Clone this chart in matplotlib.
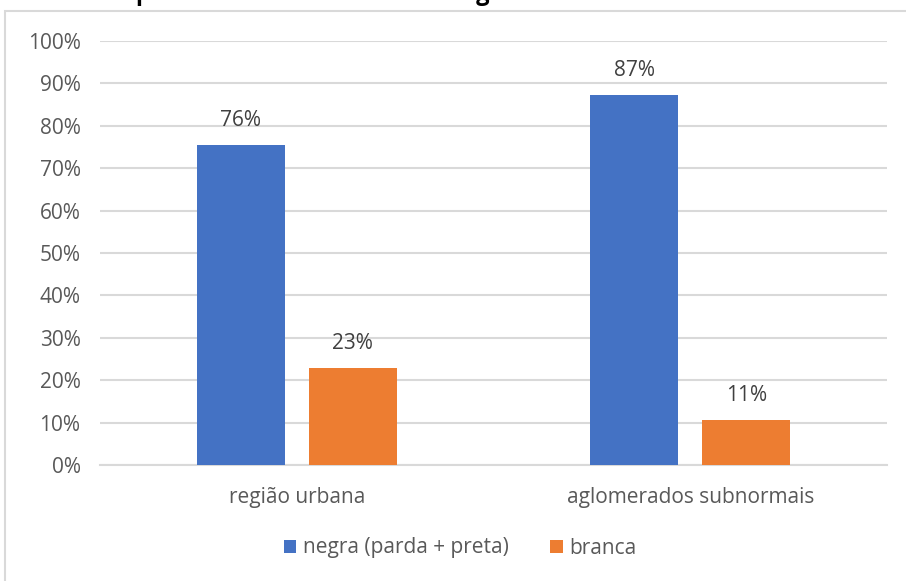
import matplotlib
matplotlib.use("Agg")
import matplotlib.pyplot as plt
from matplotlib.patches import Rectangle
import numpy as np

plt.rcParams['font.family'] = ['Open Sans', 'DejaVu Sans']

categories = ["região urbana", "aglomerados subnormais"]
series_names = ["negra (parda + preta)", "branca"]
negra = [0.755, 0.873]
branca = [0.229, 0.106]
value_labels = [["76%", "87%"], ["23%", "11%"]]
colors = ["#4472C4", "#ED7D31"]
title = "Pessoas ocupadas na área urbana e em aglomerados subnormais em Salvador"

fig = plt.figure(figsize=(9.06, 5.81), dpi=100)
fig.patches.append(Rectangle((5 / 906, -0.05), 1.0, 1 - 11 / 581 + 0.05,
                             transform=fig.transFigure, fill=False,
                             edgecolor="#d9d9d9", linewidth=1.5))
# title is cut off at the top of the original image
fig.text(0.5, 1.0 + 6 / 581, title, ha="center", va="center", fontsize=17,
         fontweight="bold", color="black")

ax = fig.add_axes([100 / 906, 1 - 465 / 581, 787 / 906, 424 / 581])
x = np.arange(len(categories))
w = 0.224
off = 0.1425
for i, vals in enumerate([negra, branca]):
    pos = x + (off if i else -off)
    ax.bar(pos, vals, width=w, color=colors[i], label=series_names[i], zorder=3)
    for p, v, lab in zip(pos, vals, value_labels[i]):
        ax.text(p, v + 0.033, lab, ha="center", va="bottom", fontsize=15, color="#404040")

ax.set_xlim(-0.5, 1.5)
ax.set_ylim(0, 1.0)
ax.set_yticks(np.arange(0, 1.01, 0.1))
ax.set_yticklabels([f"{int(round(t * 100))}%" for t in np.arange(0, 1.01, 0.1)])
ax.set_xticks(x)
ax.set_xticklabels(categories)
ax.tick_params(axis="both", length=0, labelsize=15, labelcolor="#595959")
ax.tick_params(axis="y", pad=14)
ax.tick_params(axis="x", pad=16)
ax.grid(axis="y", color="#d9d9d9", linewidth=1.5, zorder=0)
for s in ["top", "right", "left"]:
    ax.spines[s].set_visible(False)
ax.spines["bottom"].set_color("#d9d9d9")
ax.spines["bottom"].set_linewidth(1.5)

leg = fig.legend(loc="center", bbox_to_anchor=(460 / 906, 1 - 548 / 581), ncol=2,
                 frameon=False, fontsize=15, handlelength=0.6, handleheight=0.6,
                 handletextpad=0.3, columnspacing=2.0)
for t in leg.get_texts():
    t.set_color("#595959")

fig.savefig("out.png", dpi=100)
